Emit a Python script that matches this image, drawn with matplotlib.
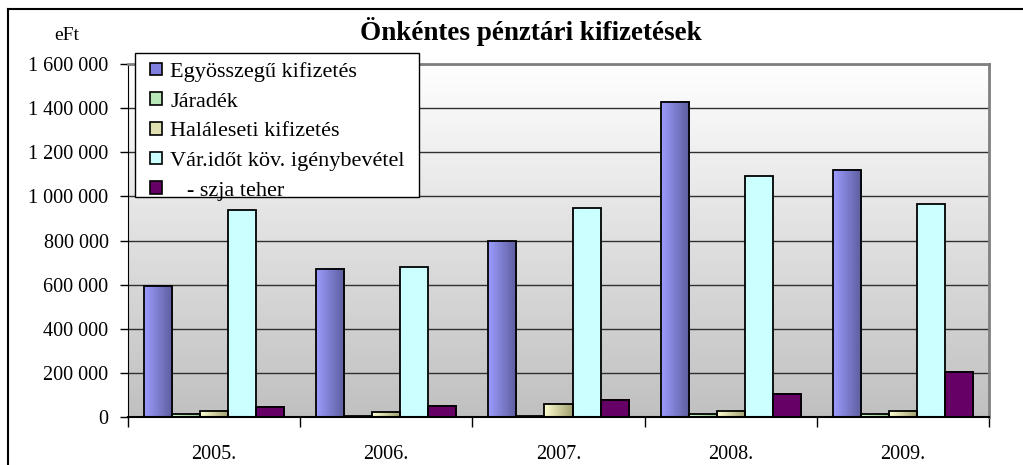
import numpy as np
import matplotlib
matplotlib.use('Agg')
import matplotlib.pyplot as plt
from matplotlib.lines import Line2D
from matplotlib.patches import Patch, Rectangle
from matplotlib.colors import LinearSegmentedColormap

plt.rcParams['font.family'] = ['Liberation Serif', 'DejaVu Serif']

years = ['2005.', '2006.', '2007.', '2008.', '2009.']
series_names = ['Egyösszegű kifizetés', 'Járadék', 'Haláleseti kifizetés',
                'Vár.időt köv. igénybevétel', '   - szja teher']
egyosszegu = [593000, 672000, 797000, 1430000, 1122000]
jaradek = [14000, 6000, 6000, 14000, 14000]
halaleseti = [30000, 23000, 58000, 30000, 30000]
varidot = [940000, 680000, 950000, 1092000, 968000]
szja = [47000, 52000, 77000, 107000, 206000]

values = [egyosszegu, jaradek, halaleseti, varidot, szja]
# gradient colours (left, right) per series
grads = [('#9c9cff', '#5c5c9c'), ('#d4ffd4', '#9ccc9c'), ('#ffffd2', '#a0a070'),
         ('#ccffff', '#ccffff'), ('#660066', '#660066')]
legend_cols = ['#8080e0', '#b8e8b8', '#e0e0b0', '#ccffff', '#660066']

fig = plt.figure(figsize=(10.23, 4.65), dpi=100)
ax = fig.add_axes([128/1023, 1-417.3/465, 861/1023, (417.3-64)/465])

# plot area background: white at top, silver at the bottom
bg = np.linspace(0, 1, 256).reshape(-1, 1)
bgcmap = LinearSegmentedColormap.from_list('bg', ['#ffffff', '#c0c0c0'])
ax.imshow(bg, cmap=bgcmap, aspect='auto', extent=[0, 1, 0, 1],
          transform=ax.transAxes, zorder=0, origin='upper')

x = np.arange(len(years))
w = 0.163
for i, vals in enumerate(values):
    bars = ax.bar(x + (i - 2) * w, vals, w, facecolor='none',
                  edgecolor='black', linewidth=1.3, zorder=3)
    cm = LinearSegmentedColormap.from_list('g%d' % i, list(grads[i]))
    grad = np.linspace(0, 1, 64).reshape(1, -1)
    for b in bars:
        ax.imshow(grad, cmap=cm, aspect='auto', zorder=2,
                  extent=[b.get_x(), b.get_x() + b.get_width(), 0, b.get_height()])

ax.set_xlim(-0.5, 4.5)
ax.set_ylim(0, 1600000)
yt = np.arange(0, 1600001, 200000)
ax.set_yticks(yt)
ax.set_yticklabels(['{:,}'.format(v).replace(',', ' ') for v in yt], fontsize=14.5)
ax.yaxis.grid(True, color='#303030', linewidth=1.0, zorder=1)
ax.tick_params(axis='y', length=6, width=1, pad=8, direction='out')

ax.set_xticks(np.arange(-0.5, 5, 1))
ax.set_xticklabels([])
ax.set_xticks(x, minor=True)
ax.set_xticklabels(years, minor=True, fontsize=14.5)
ax.tick_params(axis='x', which='major', length=7, width=1, direction='out')
ax.tick_params(axis='x', which='minor', length=0, pad=20)

for s in ['top', 'right']:
    ax.spines[s].set_color('#808080')
    ax.spines[s].set_linewidth(2)
ax.spines['left'].set_color('black')
ax.spines['bottom'].set_color('black')
ax.spines['bottom'].set_linewidth(1.5)

# legend box
frame = Rectangle((135/1023, 1-197/465), 284/1023, 144/465, transform=fig.transFigure,
                  facecolor='white', edgecolor='black', linewidth=1.0, zorder=9)
fig.add_artist(frame)
handles = [Patch(facecolor=legend_cols[i], edgecolor='black', linewidth=1.2)
           for i in range(5)]
leg = fig.legend(handles, series_names, loc='upper left',
                 bbox_to_anchor=(146/1023, 1-57.5/465), fontsize=16,
                 frameon=False, handlelength=0.5, handleheight=0.5,
                 handletextpad=0.4, labelspacing=0.47, borderpad=0.2,
                 borderaxespad=0)
leg.set_zorder(10)

fig.text(531/1023, 1-32/465, 'Önkéntes pénztári kifizetések', ha='center',
         va='center', fontsize=19.5, fontweight='bold')
fig.text(67/1023, 1-35/465, 'eFt', ha='center', va='center', fontsize=14)

# outer chart border (left and top visible)
fig.add_artist(Line2D([8/1023, 8/1023], [0, 1-9/465], color='black', linewidth=1.5,
                      transform=fig.transFigure))
fig.add_artist(Line2D([8/1023, 1], [1-9/465, 1-9/465], color='black', linewidth=1.5,
                      transform=fig.transFigure))

fig.savefig('out.png', dpi=100)
